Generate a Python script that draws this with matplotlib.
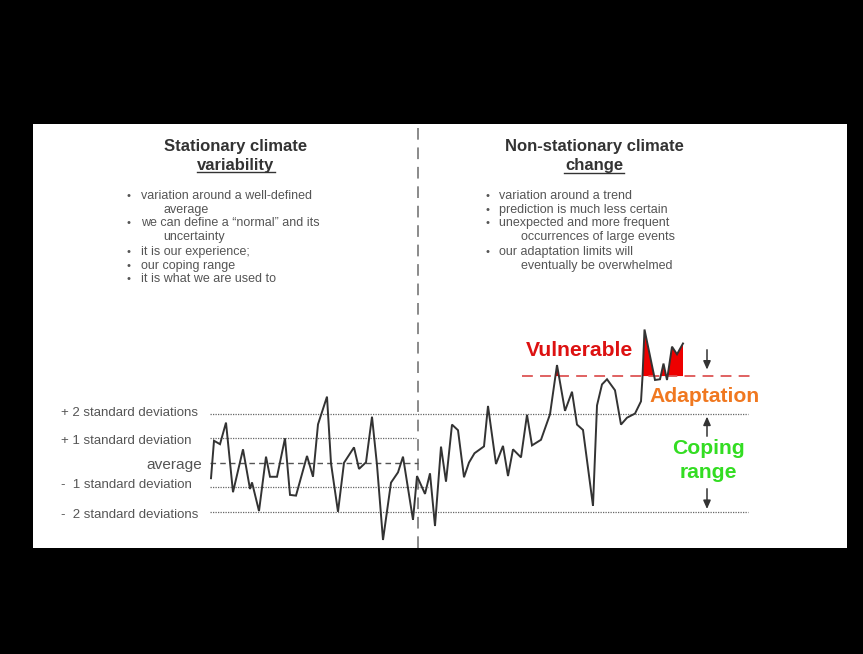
import matplotlib
matplotlib.use("Agg")
import matplotlib.pyplot as plt
import numpy as np

# ---------------- data ----------------
# time positions and values (in standard deviations from the average)
time = [211, 214, 220, 226, 233, 243, 250, 252, 259, 266, 270, 277, 285, 290, 296,
        307, 313, 318, 327, 331, 338, 344, 354, 359, 366, 372, 377, 383, 391, 398,
        403, 413, 417, 425, 430, 435, 441, 446, 452, 458, 464, 469, 474.5, 484, 488,
        496, 503, 508, 513, 521, 527, 532, 541, 550, 557, 565, 572, 577, 583, 593,
        597, 602, 607, 615, 621, 627, 635, 641, 642.5, 644.5, 655, 660, 663.5, 667,
        672, 677, 683]
values = [-0.63, 0.90, 0.76, 1.64, -1.20, 0.55, -1.07, -0.80, -1.97, 0.25, -0.57, -0.57,
          1.00, -1.31, -1.34, 0.28, -0.57, 1.57, 2.70, -0.02, -2.00, 0.00, 0.63, -0.25,
          0.02, 1.88, -0.09, -3.15, -0.81, -0.39, 0.25, -2.33, -0.54, -1.27, -0.43, -2.58,
          0.66, -0.77, 1.56, 1.33, -0.59, 0.01, 0.39, 0.67, 2.32, -0.05, 0.69, -0.54, 0.55,
          0.22, 1.96, 0.71, 0.94, 1.98, 3.99, 2.12, 2.90, 1.56, 1.34, -1.76, 2.34, 3.20,
          3.41, 2.96, 1.56, 1.84, 2.01, 2.51, 3.51, 5.44, 3.38, 3.41, 4.05, 3.38, 4.74,
          4.43, 4.87]
sd_levels = [2, 1, 0, -1, -2]
sd_labels = ["+ 2 standard deviations", "+ 1 standard deviation", "average",
             "-  1 standard deviation", "-  2 standard deviations"]
vulnerable_threshold = 3.54

left_bullets = ["variation around a well-defined", "    average",
                "we can define a \u201cnormal\u201d and its", "    uncertainty",
                "it is our experience;", "our coping range", "it is what we are used to"]
right_bullets = ["variation around a trend", "prediction is much less certain",
                 "unexpected and more frequent", "    occurrences of large events",
                 "our adaptation limits will", "    eventually be overwhelmed"]

# ---------------- layout ----------------
W, H = 863, 654
C, S = 462.8, 24.5          # pixel row of the average, pixels per sd


def py(row):
    return (C - row) / S


FONT = "Liberation Sans"
plt.rcParams["font.family"] = [FONT, "DejaVu Sans"]

fig = plt.figure(figsize=(W / 100, H / 100), dpi=100, facecolor="black")
ax = fig.add_axes([33 / W, (H - 548) / H, 814 / W, 424 / H])
ax.set_facecolor("white")
ax.set_xlim(33, 847)
ax.set_ylim(py(548), py(124))
for sp in ax.spines.values():
    sp.set_visible(False)
ax.set_xticks([])
ax.set_yticks([])

divider_x = 418
ax.axvline(divider_x, color="#8a8a8a", lw=1.4, ls=(0, (6, 4)))

# reference lines
x0 = 210
for lev in sd_levels:
    if lev == 0:
        ax.plot([x0, divider_x], [lev, lev], color="#555555", lw=1.0, ls=(0, (4, 3)))
    elif abs(lev) == 1:
        ax.plot([x0, divider_x + (10 if lev < 0 else -2)], [lev, lev], color="#666666", lw=0.9, ls=(0, (1, 1)))
    else:
        ax.plot([x0, 748], [lev, lev], color="#666666", lw=0.9, ls=(0, (1, 1)))

# labels of reference lines
label_rows = [412.5, 441, 465, 485.5, 515]
for lab, row in zip(sd_labels, label_rows):
    if lab == "average":
        ax.text(202, py(row), lab, ha="right", va="center", fontsize=11.1, color="#555555")
    else:
        ax.text(61, py(row), lab, ha="left", va="center", fontsize=9.5, color="#555555")

# vulnerable threshold
ax.plot([522, 754], [vulnerable_threshold] * 2, color="#dd5555", lw=1.3, ls=(0, (6, 4)))

t = np.array(time)
v = np.array(values)
ax.fill_between(t, v, vulnerable_threshold, where=v >= vulnerable_threshold,
                interpolate=True, color="#ee0000", lw=0)
ax.plot(t, v, color="#333333", lw=1.4, solid_joinstyle="miter")

# titles
TS = 12
ax.text(236, py(146), "Stationary climate", ha="center", va="center", fontsize=TS,
        fontweight="bold", color="#333333")
ax.text(236, py(165), "variability", ha="center", va="center", fontsize=TS,
        fontweight="bold", color="#333333")
ax.plot([197, 275], [py(172), py(172)], color="#333333", lw=1.0)
ax.text(594, py(146.5), "Non-stationary climate", ha="center", va="center", fontsize=TS,
        fontweight="bold", color="#333333")
ax.text(594, py(165.5), "change", ha="center", va="center", fontsize=TS,
        fontweight="bold", color="#333333")
ax.plot([564, 624], [py(172.5), py(172.5)], color="#333333", lw=1.0)

rows = [195.7, 209.7, 223.3, 237.3, 251.7, 265.7, 279.3]


def bullets(lines, bx, tx, cx):
    for line, row in zip(lines, rows):
        if line.startswith("    "):
            ax.text(cx, py(row), line.strip(), ha="left", va="center", fontsize=9, color="#555555")
        else:
            ax.text(bx, py(row), "\u2022", ha="center", va="center", fontsize=8, color="#555555")
            ax.text(tx, py(row), line, ha="left", va="center", fontsize=9, color="#555555")


bullets(left_bullets, 128, 141, 163)
bullets(right_bullets, 487, 499, 521)

# right annotations
BS = 15.2
ax.text(579, py(350), "Vulnerable", ha="center", va="center", fontsize=BS,
        fontweight="bold", color="#dd1111")
ax.text(704.5, py(397), "Adaptation", ha="center", va="center", fontsize=BS,
        fontweight="bold", color="#f07820")
ax.text(708, py(449), "Coping", ha="center", va="center", fontsize=BS,
        fontweight="bold", color="#33dd22")
ax.text(708, py(472), "range", ha="center", va="center", fontsize=BS,
        fontweight="bold", color="#33dd22")

arrow_kw = dict(arrowstyle="-|>,head_length=0.5,head_width=0.22", color="#333333", lw=1.1)
ax.annotate("", xy=(707, vulnerable_threshold + 0.15), xytext=(707, py(347)), arrowprops=arrow_kw)
ax.annotate("", xy=(707, 2.0), xytext=(707, py(439)), arrowprops=arrow_kw)
ax.annotate("", xy=(707, -2.0), xytext=(707, py(486)), arrowprops=arrow_kw)

fig.savefig("out.png", dpi=100, facecolor="black")
